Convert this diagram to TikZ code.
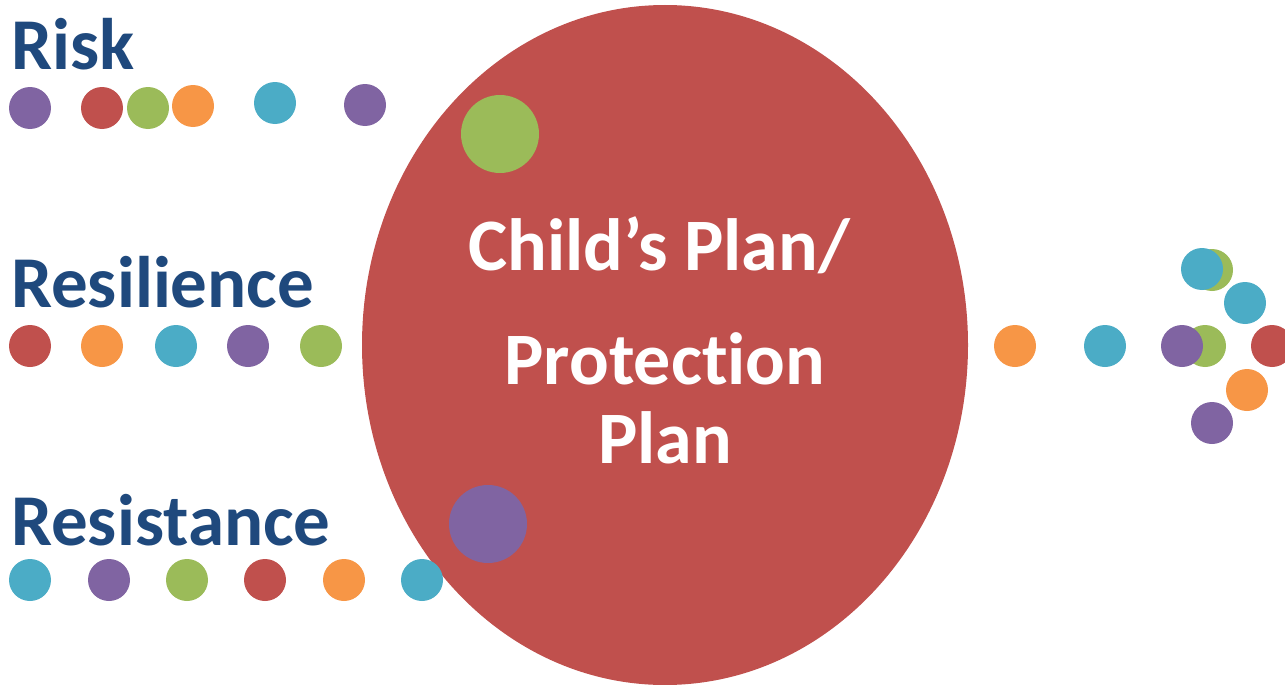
\documentclass[tikz,border=0pt]{standalone}
\usepackage{fontspec}
\setmainfont[Ligatures={NoCommon}]{Carlito}
\definecolor{cred}{HTML}{C0504D}
\definecolor{cgreen}{HTML}{9BBB59}
\definecolor{corange}{HTML}{F79646}
\definecolor{ccyan}{HTML}{4BACC6}
\definecolor{cpurple}{HTML}{8064A2}
\definecolor{cblue}{HTML}{1F497D}
\tikzset{
  lbl/.style={anchor=base west, inner sep=0pt, text=cblue, font=\fontsize{73}{80}\selectfont\bfseries},
  ctext/.style={anchor=base, inner sep=0pt, text=white, font=\fontsize{74}{80}\selectfont\bfseries},
}
\newcommand{\dotat}[3]{\fill[#1] (#2,#3) circle (21);}
\begin{document}
\begin{tikzpicture}[x=1pt,y=-1pt]
\useasboundingbox (0,0) rectangle (1285,685);
% big ellipse
\fill[cred] (665,345) ellipse [x radius=303, y radius=340];
\fill[cgreen] (500,134) circle (39);
\fill[cpurple] (488,524) circle (39);
% labels
\node[lbl] (risk) at (11,70) {Risk};
\node[lbl] (resil) at (11,307) {Resilience};
\node[lbl] (resist) at (11,545) {Resistance};
% centre text
\node[ctext] (t1) at (659,270) {Child’s Plan/};
\node[ctext] (t2) at (665,384) {Protection};
\node[ctext] (t3) at (665,463) {Plan};
% risk row
\dotat{cpurple}{30}{108}
\dotat{cred}{102}{108}
\dotat{cgreen}{148}{108}
\dotat{corange}{193}{106}
\dotat{ccyan}{275}{103}
\dotat{cpurple}{365}{105}
% resilience row
\dotat{cred}{30}{346}
\dotat{corange}{102}{346}
\dotat{ccyan}{176}{346}
\dotat{cpurple}{248}{346}
\dotat{cgreen}{321}{346}
% resistance row
\dotat{ccyan}{30}{580}
\dotat{cpurple}{109}{580}
\dotat{cgreen}{187}{580}
\dotat{cred}{265}{580}
\dotat{corange}{344}{580}
\dotat{ccyan}{422}{580}
% right group
\dotat{corange}{1015}{346}
\dotat{ccyan}{1105}{346}
\dotat{cgreen}{1205}{346}
\dotat{cpurple}{1182}{346}
\dotat{cred}{1272}{346}
\dotat{cgreen}{1212}{270}
\dotat{ccyan}{1202}{269}
\dotat{ccyan}{1245}{303}
\dotat{corange}{1247}{390}
\dotat{cpurple}{1212}{423}
\end{tikzpicture}
\end{document}
